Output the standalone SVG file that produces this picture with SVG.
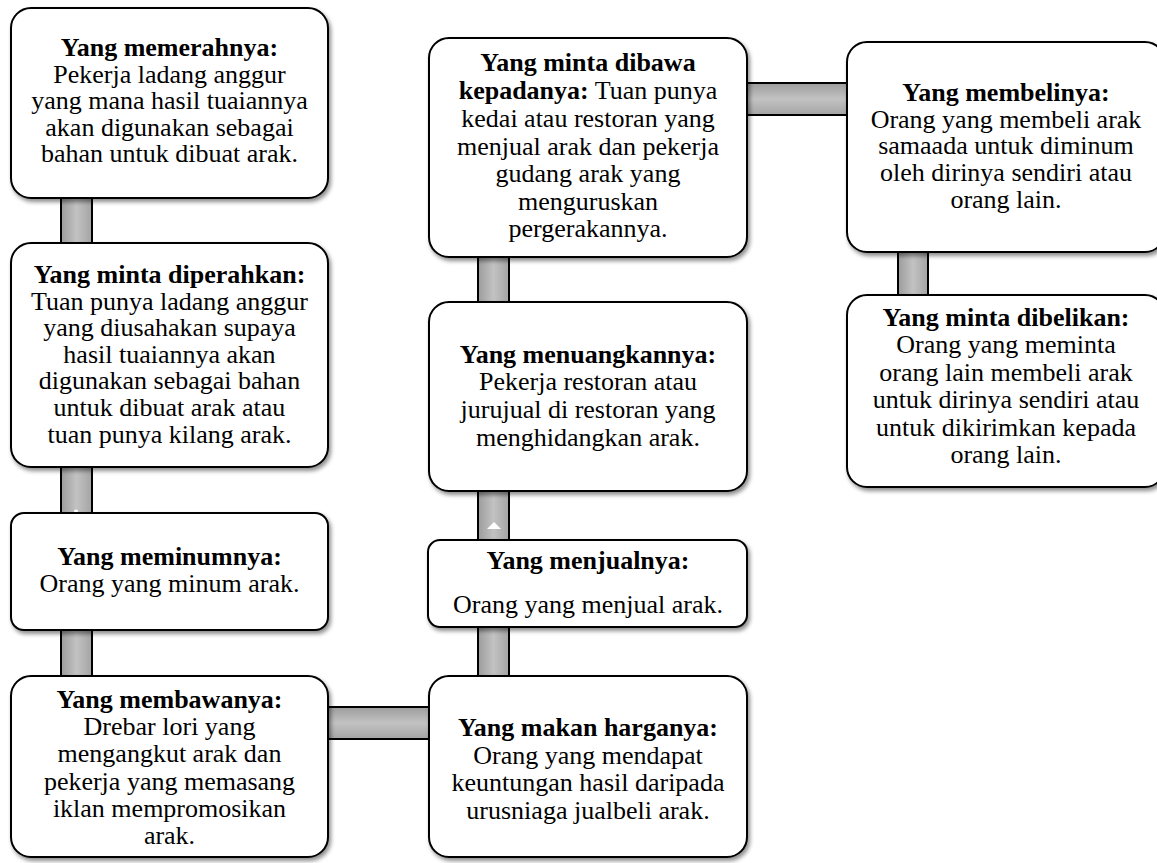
<svg xmlns="http://www.w3.org/2000/svg" width="1157" height="863" viewBox="0 0 1157 863">
<defs>
<linearGradient id="gv" x1="0" y1="0" x2="1" y2="0">
<stop offset="0" stop-color="#9c9c9c"/><stop offset="0.5" stop-color="#c2c2c2"/><stop offset="1" stop-color="#a4a4a4"/>
</linearGradient>
<linearGradient id="gh" x1="0" y1="0" x2="0" y2="1">
<stop offset="0" stop-color="#9c9c9c"/><stop offset="0.5" stop-color="#c2c2c2"/><stop offset="1" stop-color="#a4a4a4"/>
</linearGradient>
<filter id="sh" x="-10%" y="-10%" width="120%" height="120%">
<feDropShadow dx="2" dy="3" stdDeviation="2" flood-color="#000" flood-opacity="0.45"/>
</filter>
</defs>
<style>
.box{fill:#fff;stroke:#000;stroke-width:2;filter:url(#sh)}
.cv{fill:url(#gv)}
.ch{fill:url(#gh)}
.edge{stroke:#000;stroke-width:2}
text{font-family:"Liberation Serif","Times New Roman",serif;font-size:26px;fill:#000;text-anchor:middle}
.b{font-weight:bold}
</style>
<rect width="1157" height="863" fill="#fff"/>
<g id="connectors">
<rect class="cv" x="61" y="195" width="31" height="52"/><line class="edge" x1="61" y1="195" x2="61" y2="247"/><line class="edge" x1="92" y1="195" x2="92" y2="247"/>
<rect class="cv" x="61" y="464" width="31" height="52"/><line class="edge" x1="61" y1="464" x2="61" y2="516"/><line class="edge" x1="92" y1="464" x2="92" y2="516"/>
<ellipse cx="76" cy="511" rx="2" ry="1.5" fill="#fff"/>
<rect class="cv" x="61" y="627" width="31" height="52"/><line class="edge" x1="61" y1="627" x2="61" y2="679"/><line class="edge" x1="92" y1="627" x2="92" y2="679"/>
<rect class="ch" x="325" y="707" width="108" height="32"/><line class="edge" x1="325" y1="707" x2="433" y2="707"/><line class="edge" x1="325" y1="739" x2="433" y2="739"/>
<rect class="cv" x="478" y="624" width="31" height="55"/><line class="edge" x1="478" y1="624" x2="478" y2="679"/><line class="edge" x1="509" y1="624" x2="509" y2="679"/>
<rect class="cv" x="478" y="488" width="31" height="55"/><line class="edge" x1="478" y1="488" x2="478" y2="543"/><line class="edge" x1="509" y1="488" x2="509" y2="543"/>
<polygon points="487,529 494,522 501,529" fill="#fff"/>
<rect class="cv" x="478" y="254" width="31" height="51"/><line class="edge" x1="478" y1="254" x2="478" y2="305"/><line class="edge" x1="509" y1="254" x2="509" y2="305"/>
<rect class="ch" x="744" y="83" width="106" height="32"/><line class="edge" x1="744" y1="83" x2="850" y2="83"/><line class="edge" x1="744" y1="115" x2="850" y2="115"/>
<rect class="cv" x="898" y="249" width="30" height="49"/><line class="edge" x1="898" y1="249" x2="898" y2="298"/><line class="edge" x1="928" y1="249" x2="928" y2="298"/>
</g>
<g id="n1">
<rect class="box" x="11" y="8" width="317" height="190" rx="20"/>
<text x="169.5" y="56" class="b">Yang memerahnya:</text>
<text x="169.5" y="82.5">Pekerja ladang anggur</text>
<text x="169.5" y="109">yang mana hasil tuaiannya</text>
<text x="169.5" y="135.5">akan digunakan sebagai</text>
<text x="169.5" y="162">bahan untuk dibuat arak.</text>
</g>
<g id="n2">
<rect class="box" x="11" y="243" width="317" height="224" rx="20"/>
<text x="169.5" y="283" class="b">Yang minta diperahkan:</text>
<text x="169.5" y="309.6">Tuan punya ladang anggur</text>
<text x="169.5" y="336.2">yang diusahakan supaya</text>
<text x="169.5" y="362.8">hasil tuaiannya akan</text>
<text x="169.5" y="389.4">digunakan sebagai bahan</text>
<text x="169.5" y="416">untuk dibuat arak atau</text>
<text x="169.5" y="442.6">tuan punya kilang arak.</text>
</g>
<g id="n3">
<rect class="box" x="11" y="513" width="317" height="117" rx="13"/>
<text x="169.5" y="565" class="b">Yang meminumnya:</text>
<text x="169.5" y="592">Orang yang minum arak.</text>
</g>
<g id="n4">
<rect class="box" x="11" y="676" width="317" height="181" rx="20"/>
<text x="169.5" y="708" class="b">Yang membawanya:</text>
<text x="169.5" y="735.2">Drebar lori yang</text>
<text x="169.5" y="762.4">mengangkut arak dan</text>
<text x="169.5" y="789.6">pekerja yang memasang</text>
<text x="169.5" y="816.8">iklan mempromosikan</text>
<text x="169.5" y="844">arak.</text>
</g>
<g id="m1">
<rect class="box" x="429" y="38" width="318" height="219" rx="20"/>
<text x="588" y="71" class="b">Yang minta dibawa</text>
<text x="588" y="99"><tspan class="b">kepadanya:</tspan> Tuan punya</text>
<text x="588" y="127">kedai atau restoran yang</text>
<text x="588" y="154.5">menjual arak dan pekerja</text>
<text x="588" y="182">gudang arak yang</text>
<text x="588" y="209.5">menguruskan</text>
<text x="588" y="237">pergerakannya.</text>
</g>
<g id="m2">
<rect class="box" x="429" y="302" width="318" height="189" rx="20"/>
<text x="588" y="363" class="b">Yang menuangkannya:</text>
<text x="588" y="390">Pekerja restoran atau</text>
<text x="588" y="418">jurujual di restoran yang</text>
<text x="588" y="446">menghidangkan arak.</text>
</g>
<g id="m3">
<rect class="box" x="428" y="540" width="319" height="87" rx="12"/>
<text x="588" y="569" class="b">Yang menjualnya:</text>
<text x="588" y="613">Orang yang menjual arak.</text>
</g>
<g id="m4">
<rect class="box" x="429" y="676" width="318" height="181" rx="20"/>
<text x="588" y="736" class="b">Yang makan harganya:</text>
<text x="588" y="764">Orang yang mendapat</text>
<text x="588" y="791">keuntungan hasil daripada</text>
<text x="588" y="819">urusniaga jualbeli arak.</text>
</g>
<g id="r1">
<rect class="box" x="847" y="42" width="318" height="210" rx="20"/>
<text x="1006" y="101" class="b">Yang membelinya:</text>
<text x="1006" y="127.5">Orang yang membeli arak</text>
<text x="1006" y="154">samaada untuk diminum</text>
<text x="1006" y="181">oleh dirinya sendiri atau</text>
<text x="1006" y="208">orang lain.</text>
</g>
<g id="r2">
<rect class="box" x="847" y="295" width="318" height="192" rx="20"/>
<text x="1006" y="326" class="b">Yang minta dibelikan:</text>
<text x="1006" y="353">Orang yang meminta</text>
<text x="1006" y="381">orang lain membeli arak</text>
<text x="1006" y="408">untuk dirinya sendiri atau</text>
<text x="1006" y="436">untuk dikirimkan kepada</text>
<text x="1006" y="463">orang lain.</text>
</g>
</svg>
